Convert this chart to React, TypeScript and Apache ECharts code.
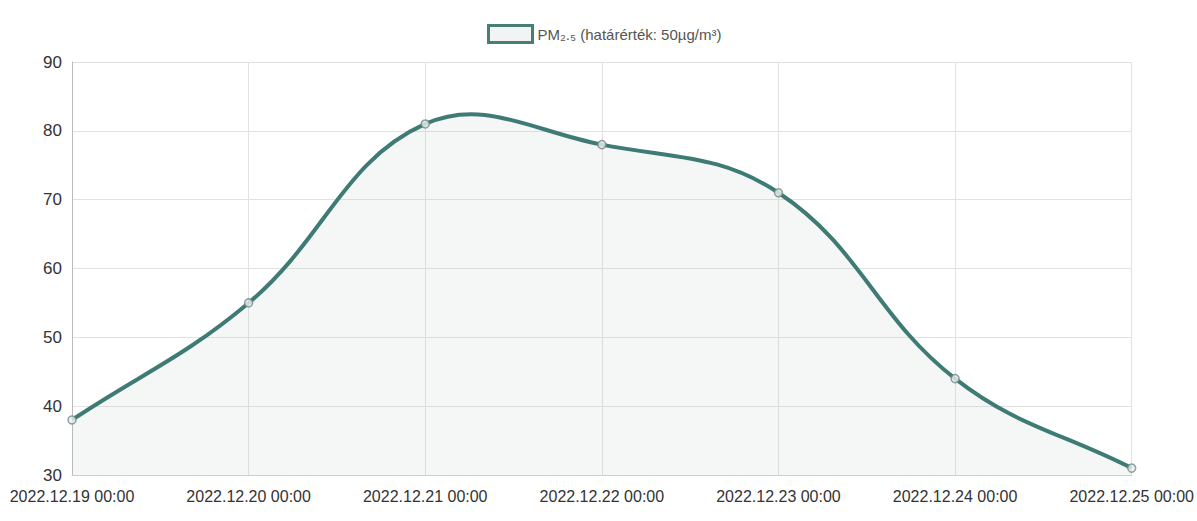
import React, { useEffect, useRef } from "react";
import * as echarts from "echarts";

const categories = [
  "2022.12.19 00:00",
  "2022.12.20 00:00",
  "2022.12.21 00:00",
  "2022.12.22 00:00",
  "2022.12.23 00:00",
  "2022.12.24 00:00",
  "2022.12.25 00:00",
];
const pm25 = [38, 55, 81, 78, 71, 44, 31];
const seriesName = "PM₂.₅ (határérték: 50µg/m³)";
const yMin = 30;
const yMax = 90;
const tension = 0.4;

const FONT = "'Liberation Sans Narrow', 'Liberation Sans', Arial, sans-serif";
const LINE = "#3e7b75";

// Chart.js-style cardinal spline control points, computed in pixel space
function splinePath(pts: number[][]): string {
  const n = pts.length;
  const cps: { c1: number[]; c2: number[] }[] = [];
  for (let i = 0; i < n; i++) {
    const prev = pts[Math.max(0, i - 1)];
    const cur = pts[i];
    const next = pts[Math.min(n - 1, i + 1)];
    const d01 = Math.hypot(cur[0] - prev[0], cur[1] - prev[1]);
    const d12 = Math.hypot(next[0] - cur[0], next[1] - cur[1]);
    let s01 = d01 / (d01 + d12);
    let s12 = d12 / (d01 + d12);
    if (!isFinite(s01)) s01 = 0;
    if (!isFinite(s12)) s12 = 0;
    const fa = tension * s01;
    const fb = tension * s12;
    cps.push({
      c1: [cur[0] - fa * (next[0] - prev[0]), cur[1] - fa * (next[1] - prev[1])],
      c2: [cur[0] + fb * (next[0] - prev[0]), cur[1] + fb * (next[1] - prev[1])],
    });
  }
  let d = `M${pts[0][0]},${pts[0][1]}`;
  for (let i = 1; i < n; i++) {
    const a = cps[i - 1].c2;
    const b = cps[i].c1;
    d += ` C${a[0]},${a[1]} ${b[0]},${b[1]} ${pts[i][0]},${pts[i][1]}`;
  }
  return d;
}

export default function App() {
  const ref = useRef<HTMLDivElement>(null);
  useEffect(() => {
    if (!ref.current) return;
    const chart = echarts.init(ref.current, undefined, { renderer: "svg" });
    const renderCurve = (params: any, api: any) => {
      if (params.dataIndex !== 0) return null;
      const pts = pm25.map((v, i) => api.coord([i, v]));
      const line = splinePath(pts);
      const first = api.coord([0, yMin]);
      const last = api.coord([pm25.length - 1, yMin]);
      const area = `${line} L${last[0]},${last[1]} L${first[0]},${first[1]} Z`;
      return {
        type: "group",
        children: [
          {
            type: "path",
            shape: { pathData: area },
            style: { fill: "rgba(180,195,195,0.13)", stroke: "none" },
          },
          {
            type: "path",
            shape: { pathData: line },
            style: { fill: "none", stroke: LINE, lineWidth: 4 },
          },
        ],
      };
    };
    chart.setOption({
      animation: false,
      backgroundColor: "#ffffff",
      legend: {
        top: 19,
        left: 482,
        itemWidth: 44,
        itemHeight: 17,
        itemGap: 8,
        icon: "rect",
        data: [
          {
            name: seriesName,
            itemStyle: { color: "#f2f4f3", borderColor: "#4a7d76", borderWidth: 3 },
          },
        ],
        textStyle: { color: "#555", fontSize: 15, fontFamily: FONT },
      },
      grid: { left: 72, right: 62, top: 62, bottom: 46 },
      xAxis: {
        type: "category",
        data: categories,
        boundaryGap: false,
        axisLine: { show: true, lineStyle: { color: "#cfcfcf" } },
        axisTick: { show: false },
        splitLine: { show: true, lineStyle: { color: "#e2e2e2" } },
        axisLabel: {
          color: "#333",
          fontSize: 16,
          fontFamily: FONT,
          margin: 13,
          interval: 0,
        },
      },
      yAxis: {
        type: "value",
        min: yMin,
        max: yMax,
        interval: 10,
        axisLine: { show: true, lineStyle: { color: "#bbb" } },
        axisTick: { show: false },
        splitLine: { show: true, lineStyle: { color: "#e2e2e2" } },
        axisLabel: { color: "#333", fontSize: 17, fontFamily: FONT, margin: 10 },
      },
      series: [
        {
          name: seriesName,
          type: "custom",
          data: pm25.map((v, i) => [i, v]),
          encode: { x: 0, y: 1 },
          renderItem: renderCurve,
          clip: false,
          z: 2,
        },
        {
          name: "points",
          type: "scatter",
          data: pm25.map((v, i) => [i, v]),
          symbol: "circle",
          symbolSize: 8,
          itemStyle: { color: "#eef0ef", borderColor: "#6f8885", borderWidth: 1.5 },
          z: 3,
        },
      ],
    });
    return () => chart.dispose();
  }, []);
  return (
    <div
      ref={ref}
      style={{ position: "fixed", left: 0, top: 0, width: 1197, height: 521 }}
    />
  );
}
